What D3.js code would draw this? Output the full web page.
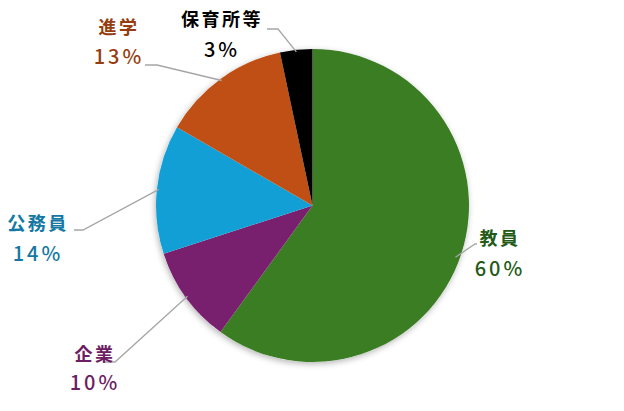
<!DOCTYPE html>
<html><head><meta charset="utf-8">
<script src="https://cdn.jsdelivr.net/npm/d3@7"></script>
<style>
html,body{margin:0;padding:0;background:#fff;}
svg{display:block;}
text{font-family:"Noto Sans CJK JP","Noto Sans",sans-serif;}
</style></head>
<body>
<svg id="chart" width="624" height="411"></svg>
<script>
const categories = ["教員", "企業", "公務員", "進学", "保育所等"];
const values = [18, 3, 4, 4, 1];
const percentLabels = ["60%", "10%", "14%", "13%", "3%"];
const sliceColors = ["#3b7d23", "#78206e", "#129fd6", "#c04f15", "#000000"];
const textColors = ["#235a16", "#6c1d63", "#1378a3", "#963d10", "#000000"];

// layout: label centre, leader knee and leader end (in px)
const labelLayout = [
  {x: 500, y1: 245, y2: 276, knee: [475, 244], end: [475, 244]},
  {x: 95,  y1: 361, y2: 390, knee: [115, 362], end: [104, 362]},
  {x: 38,  y1: 230, y2: 261, knee: [83, 230],  end: [74, 230]},
  {x: 119, y1: 34,  y2: 64,  knee: [157, 65],  end: [145, 65]},
  {x: 222, y1: 26,  y2: 57,  knee: [278, 29],  end: [267, 29]}
];

const svg = d3.select("#chart");
const cx = 312.5, cy = 205.5, r = 156.5;

const defs = svg.append("defs");
const f = defs.append("filter").attr("id", "sh").attr("x", "-20%").attr("y", "-20%").attr("width", "140%").attr("height", "140%");
f.append("feDropShadow").attr("dx", -1).attr("dy", 2).attr("stdDeviation", 3).attr("flood-color", "#000").attr("flood-opacity", 0.3);

const data = categories.map((c, i) => ({name: c, value: values[i], pct: percentLabels[i], i}));
const pie = d3.pie().value(d => d.value).sort(null);
const arcs = pie(data);
const arc = d3.arc().innerRadius(0).outerRadius(r);

const g = svg.append("g").attr("transform", `translate(${cx},${cy})`);
g.append("circle").attr("r", r).attr("fill", "#fff").attr("filter", "url(#sh)");
g.selectAll("path.slice").data(arcs).enter().append("path")
  .attr("class", "slice")
  .attr("d", arc)
  .attr("fill", d => sliceColors[d.data.i]);

// leader lines
arcs.forEach(a => {
  const L = labelLayout[a.data.i];
  const mid = (a.startAngle + a.endAngle) / 2;
  const sx = cx + (r - 2) * Math.sin(mid), sy = cy - (r - 2) * Math.cos(mid);
  let pts;
  if (a.data.i === 0) {
    pts = `${sx - 4},${sy + 4} ${L.knee[0]},${L.knee[1]} ${L.end[0]+2},${L.end[1]}`;
  } else {
    pts = `${sx},${sy} ${L.knee[0]},${L.knee[1]} ${L.end[0]},${L.end[1]}`;
  }
  svg.append("polyline")
    .attr("points", pts)
    .attr("fill", "none").attr("stroke", "#a6a6a6").attr("stroke-width", 1.3);
});

// labels
data.forEach(d => {
  const L = labelLayout[d.i];
  svg.append("text").attr("x", L.x).attr("y", L.y1)
    .attr("text-anchor", "middle").attr("fill", textColors[d.i])
    .attr("font-size", 18).attr("font-weight", 700).attr("letter-spacing", 2.5)
    .text(d.name);
  svg.append("text").attr("x", L.x).attr("y", L.y2)
    .attr("text-anchor", "middle").attr("fill", textColors[d.i])
    .attr("font-size", 20).attr("font-weight", 500).attr("letter-spacing", 3)
    .text(d.pct);
});
</script>
</body></html>
